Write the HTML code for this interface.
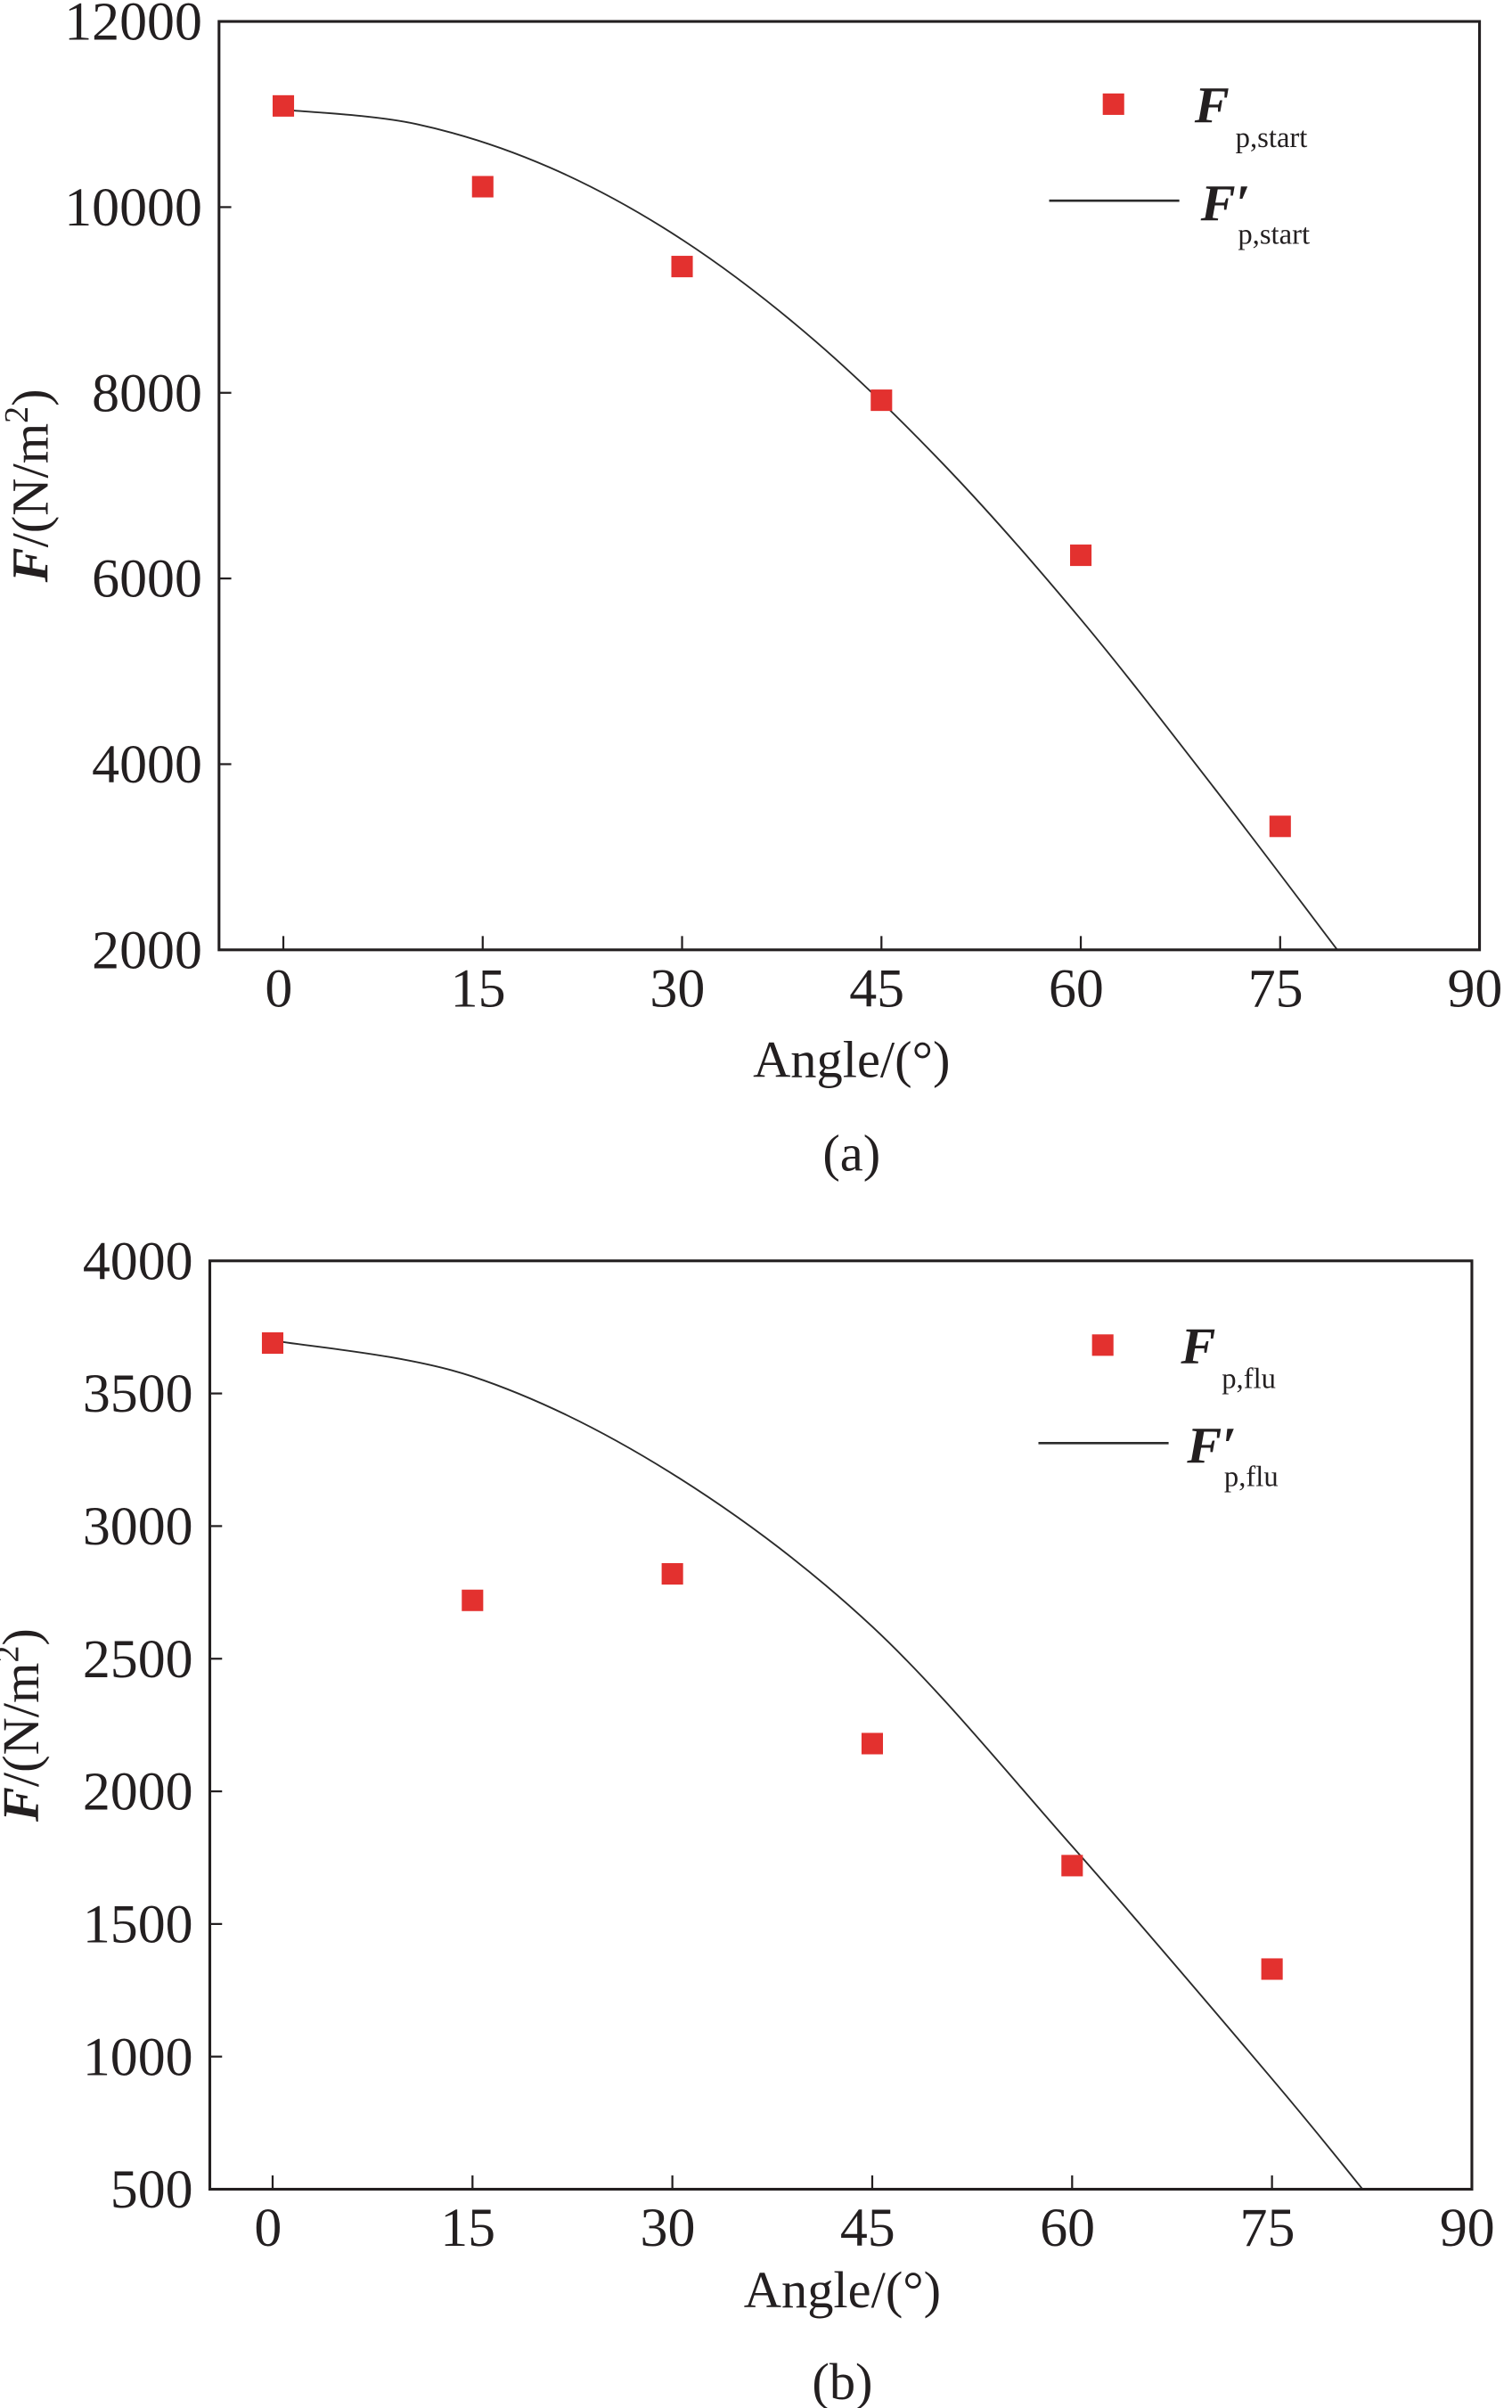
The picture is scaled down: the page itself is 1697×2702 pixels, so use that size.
<!DOCTYPE html>
<html><head><meta charset="utf-8">
<style>
html,body{margin:0;padding:0;background:#fff;}
svg{display:block;}
text{font-family:"Liberation Serif",serif;fill:#231f20;}
</style></head>
<body>
<svg id="fig" width="1697" height="2702" viewBox="0 0 987.2 1571.8" preserveAspectRatio="none" xmlns="http://www.w3.org/2000/svg"></svg>
<script>
// Panel (a) data
const anglesA = [0, 15, 30, 45, 60, 75];
const fStart = [11090, 10220, 9360, 7920, 6250, 3330];
const curveAnglesA = [0, 10, 20, 30, 40, 50, 60, 70, 79.3];
const curveStart = [11050, 10895, 10430, 9650, 8560, 7180, 5560, 3750, 2000];
const yTicksA = [2000, 4000, 6000, 8000, 10000, 12000];
// Panel (b) data
const anglesB = [0, 15, 30, 45, 60, 75];
const fFlu = [3690, 2720, 2820, 2180, 1720, 1330];
const curveAnglesB = [0, 15, 30, 45, 60, 75, 81.8];
const curveFlu = [3700, 3564, 3197, 2621, 1793, 916, 500];
const yTicksB = [500, 1000, 1500, 2000, 2500, 3000, 3500, 4000];
const xTicks = [0, 15, 30, 45, 60, 75, 90];

const NS = "http://www.w3.org/2000/svg";
const svg = document.getElementById('fig');
function mk(tag, attrs, parent) {
  const e = document.createElementNS(NS, tag);
  for (const k in attrs) e.setAttribute(k, attrs[k]);
  (parent || svg).appendChild(e);
  return e;
}
function smoothPath(pts) {
  let d = `M${pts[0][0]},${pts[0][1]}`;
  for (let i = 0; i < pts.length - 1; i++) {
    const p0 = pts[i - 1] || pts[i], p1 = pts[i], p2 = pts[i + 1], p3 = pts[i + 2] || p2;
    const c1 = [p1[0] + (p2[0] - p0[0]) / 6, p1[1] + (p2[1] - p0[1]) / 6];
    const c2 = [p2[0] - (p3[0] - p1[0]) / 6, p2[1] - (p3[1] - p1[1]) / 6];
    d += ` C${c1[0]},${c1[1]} ${c2[0]},${c2[1]} ${p2[0]},${p2[1]}`;
  }
  return d;
}

function panel(cfg) {
  const g = mk('g', {});
  
  
  const L = cfg.left, R = cfg.right, T = cfg.top, B = cfg.bottom;
  const x0 = cfg.x0;
  const xs = v => x0 + (v / 90) * (R - x0);
  const ys = v => B - (v - cfg.ymin) / (cfg.ymax - cfg.ymin) * (B - T);

  const pts = cfg.cAngles.map((a, i) => [xs(a), ys(cfg.cVals[i])]);
  const curve = mk('path', {d: smoothPath(pts), fill: 'none', stroke: '#2b2b2b', 'stroke-width': 1.1}, g);
  
  

  cfg.angles.forEach((a, i) => {
    const r = mk('rect', {x: xs(a) - 7, y: ys(cfg.vals[i]) - 7, width: 14, height: 14, fill: '#e3312f'}, g);
    
    
  });

  const fr = mk('rect', {x: L, y: T, width: R - L, height: B - T, fill: 'none', stroke: '#231f20', 'stroke-width': 1.8}, g);
  
  

  xTicks.forEach(v => {
    const x = xs(v);
    const tk = mk('line', {x1: x, x2: x, y1: B, y2: B - 9, stroke: '#231f20', 'stroke-width': 1.3}, g);
    
    
    const t = mk('text', {x: x - 3, y: B + 37, 'font-size': 36, 'text-anchor': 'middle'}, g);
    t.textContent = v;
    
    
  });
  cfg.yTicks.forEach(v => {
    const y = ys(v);
    const tk = mk('line', {x1: L, x2: L + 8, y1: y, y2: y, stroke: '#231f20', 'stroke-width': 1.3}, g);
    
    
    const t = mk('text', {x: L - 11, y: y + 12, 'font-size': 36, 'text-anchor': 'end'}, g);
    t.textContent = v;
    
    
  });

  const xt = mk('text', {x: cfg.xTitleX, y: cfg.xTitleY, 'font-size': 34, 'text-anchor': 'middle'}, g);
  xt.textContent = 'Angle/(°)';
  
  

  const ytt = mk('text', {transform: `translate(${L - 112},${(T + B) / 2}) rotate(-90)`, 'font-size': 34, 'text-anchor': 'middle'}, g);
  ytt.innerHTML = '<tspan font-weight="bold" font-style="italic">F</tspan>/(N/m<tspan font-size="22" dy="-13">2</tspan><tspan dy="13">)</tspan>';
  
  

  const cap = mk('text', {x: cfg.xTitleX, y: cfg.capY, 'font-size': 34, 'text-anchor': 'middle'}, g);
  cap.textContent = cfg.caption;
  
  

  const lg = mk('g', {}, g);
  
  
  const e1 = mk('rect', {x: cfg.lgSqX - 7, y: cfg.lgY1 - 7, width: 14, height: 14, fill: '#e3312f'}, lg);
  
  
  const t1 = mk('text', {x: cfg.lgTX, y: cfg.lgY1 + 12, 'font-size': 34}, lg);
  t1.innerHTML = `<tspan font-weight="bold" font-style="italic">F</tspan><tspan font-size="19" dx="4" dy="16">${cfg.sub}</tspan>`;
  
  
  const e2 = mk('line', {x1: cfg.lnX1, x2: cfg.lnX2, y1: cfg.lgY2, y2: cfg.lgY2, stroke: '#2b2b2b', 'stroke-width': 1.5}, lg);
  
  
  const t2 = mk('text', {x: cfg.lgTX + 4, y: cfg.lgY2 + 13, 'font-size': 34}, lg);
  t2.innerHTML = `<tspan font-weight="bold" font-style="italic">F′</tspan><tspan font-size="19" dx="-8" dy="15">${cfg.sub}</tspan>`;
  
  
}

panel({name: 'panel-a', left: 143, right: 966, top: 14, bottom: 620, x0: 185,
  ymin: 2000, ymax: 12000, yTicks: yTicksA,
  angles: anglesA, vals: fStart, cAngles: curveAnglesA, cVals: curveStart,
  xTitleX: 556, xTitleY: 703, capY: 764, caption: '(a)',
  lgSqX: 727, lgY1: 68, lgTX: 780, lgY2: 131, lnX1: 685, lnX2: 770, sub: 'p,start'});

panel({name: 'panel-b', left: 137, right: 961, top: 823, bottom: 1429, x0: 178,
  ymin: 500, ymax: 4000, yTicks: yTicksB,
  angles: anglesB, vals: fFlu, cAngles: curveAnglesB, cVals: curveFlu,
  xTitleX: 550, xTitleY: 1506, capY: 1566, caption: '(b)',
  lgSqX: 720, lgY1: 878, lgTX: 771, lgY2: 942, lnX1: 678, lnX2: 763, sub: 'p,flu'});
</script>
</body></html>
